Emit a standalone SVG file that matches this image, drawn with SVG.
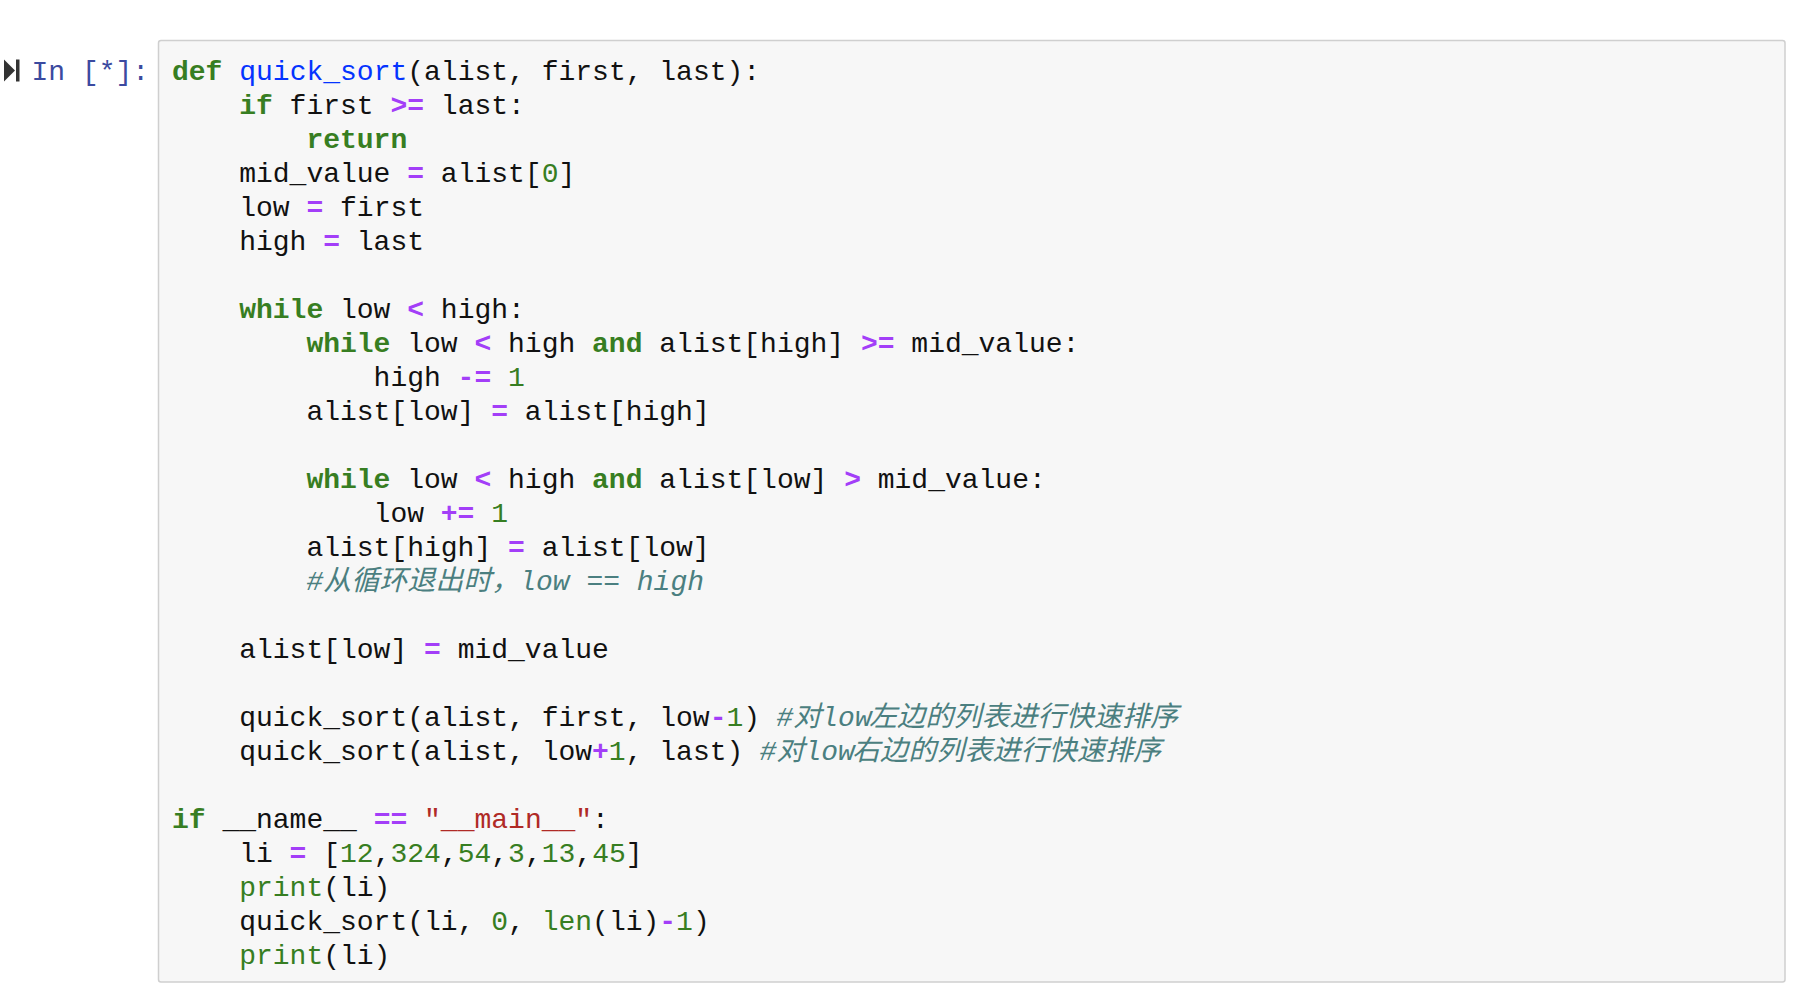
<svg xmlns="http://www.w3.org/2000/svg" width="1804" height="990" viewBox="0 0 1804 990">
<style>
text{font-family:"Liberation Mono","Noto Sans CJK SC",monospace;font-size:28px;fill:#111;white-space:pre}
.k{fill:#377e22;font-weight:bold}
.o{fill:#a33ef8;font-weight:bold}
.n{fill:#377e22}
.s{fill:#b02a26}
.c{fill:#4b7f80;font-style:italic}
.d{fill:#0433ff}
.p{fill:#3b4aa0}
</style>
<rect width="1804" height="990" fill="#ffffff"/>
<g id="prompt">
<polygon points="4,59.5 15,70.5 4,81.5" fill="#333333"/>
<rect x="16" y="59.5" width="3.5" height="22" fill="#333333"/>
<text class="p" x="31.5" y="80">In [*]:</text>
</g>
<g id="cell">
<rect x="158.5" y="40.5" width="1626.5" height="941.5" rx="2.5" fill="#f7f7f7" stroke="#cfcfcf" stroke-width="1.5"/>
</g>
<g id="code">
<text x="172" y="80"><tspan class="k">def</tspan> <tspan class="d">quick_sort</tspan>(alist, first, last):</text>
<text x="239.2" y="114"><tspan class="k">if</tspan> first <tspan class="o">&gt;=</tspan> last:</text>
<text x="306.4" y="148"><tspan class="k">return</tspan></text>
<text x="239.2" y="182">mid_value <tspan class="o">=</tspan> alist[<tspan class="n">0</tspan>]</text>
<text x="239.2" y="216">low <tspan class="o">=</tspan> first</text>
<text x="239.2" y="250">high <tspan class="o">=</tspan> last</text>
<text x="239.2" y="318"><tspan class="k">while</tspan> low <tspan class="o">&lt;</tspan> high:</text>
<text x="306.4" y="352"><tspan class="k">while</tspan> low <tspan class="o">&lt;</tspan> high <tspan class="k">and</tspan> alist[high] <tspan class="o">&gt;=</tspan> mid_value:</text>
<text x="373.6" y="386">high <tspan class="o">-=</tspan> <tspan class="n">1</tspan></text>
<text x="306.4" y="420">alist[low] <tspan class="o">=</tspan> alist[high]</text>
<text x="306.4" y="488"><tspan class="k">while</tspan> low <tspan class="o">&lt;</tspan> high <tspan class="k">and</tspan> alist[low] <tspan class="o">&gt;</tspan> mid_value:</text>
<text x="373.6" y="522">low <tspan class="o">+=</tspan> <tspan class="n">1</tspan></text>
<text x="306.4" y="556">alist[high] <tspan class="o">=</tspan> alist[low]</text>
<text class="c" x="306.4" y="590">#从循环退出时，low == high</text>
<text x="239.2" y="658">alist[low] <tspan class="o">=</tspan> mid_value</text>
<text x="239.2" y="726">quick_sort(alist, first, low<tspan class="o">-</tspan><tspan class="n">1</tspan>)</text>
<text class="c" x="776.5" y="726">#对low</text>
<text class="c" x="869" y="726" textLength="309" lengthAdjust="spacing">左边的列表进行快速排序</text>
<text x="239.2" y="760">quick_sort(alist, low<tspan class="o">+</tspan><tspan class="n">1</tspan>, last)</text>
<text class="c" x="759.7" y="760">#对low</text>
<text class="c" x="852" y="760" textLength="309" lengthAdjust="spacing">右边的列表进行快速排序</text>
<text x="172" y="828"><tspan class="k">if</tspan> __name__ <tspan class="o">==</tspan> <tspan class="s">"__main__"</tspan>:</text>
<text x="239.2" y="862">li <tspan class="o">=</tspan> [<tspan class="n">12</tspan>,<tspan class="n">324</tspan>,<tspan class="n">54</tspan>,<tspan class="n">3</tspan>,<tspan class="n">13</tspan>,<tspan class="n">45</tspan>]</text>
<text x="239.2" y="896"><tspan class="n">print</tspan>(li)</text>
<text x="239.2" y="930">quick_sort(li, <tspan class="n">0</tspan>, <tspan class="n">len</tspan>(li)<tspan class="o">-</tspan><tspan class="n">1</tspan>)</text>
<text x="239.2" y="964"><tspan class="n">print</tspan>(li)</text>
</g>
</svg>
